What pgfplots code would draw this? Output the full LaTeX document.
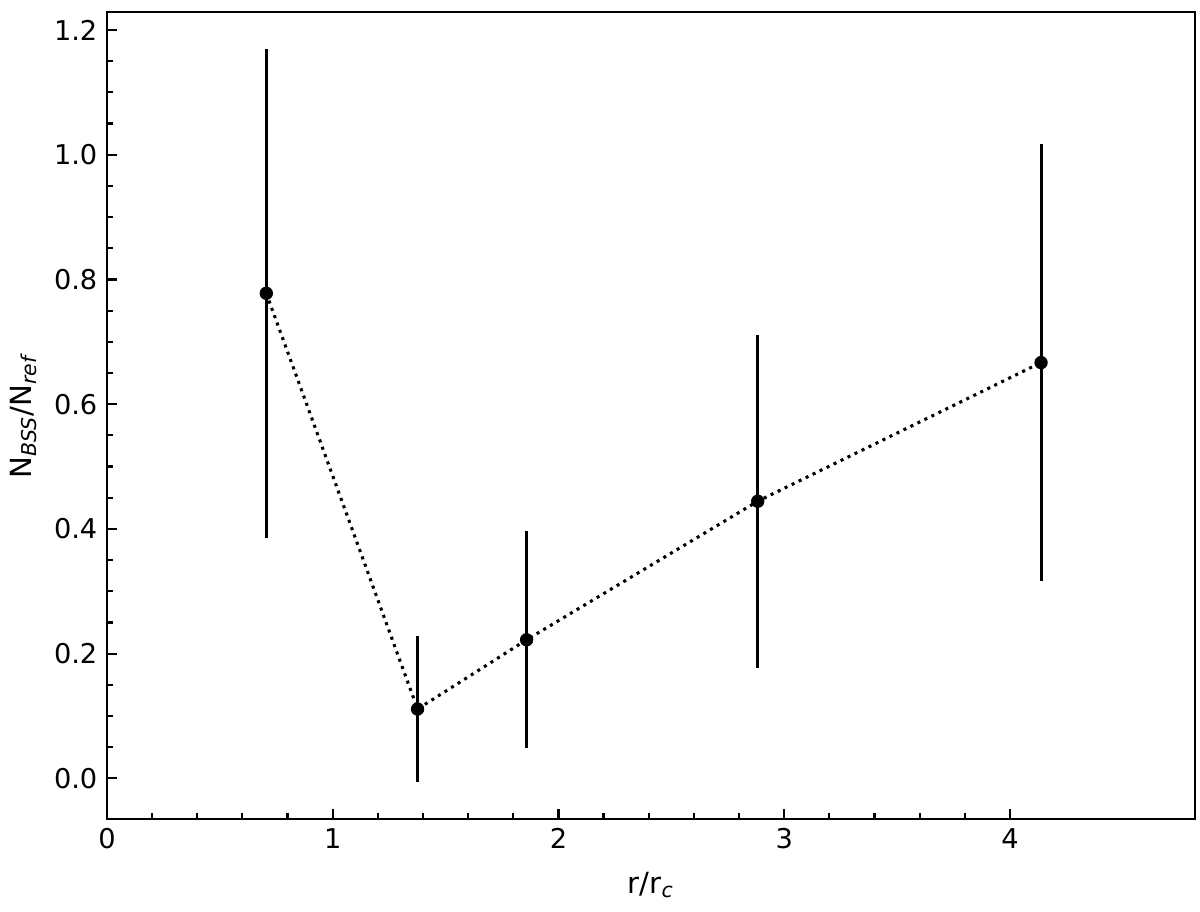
\documentclass[border=0pt]{standalone}
\usepackage{fontspec}
\setmainfont{DejaVu Sans}
\usepackage{pgfplots}
\pgfplotsset{compat=1.18}

\pgfplotstableread{
x      y       e
0.706  0.7778  0.392
1.376  0.1111  0.117
1.859  0.2222  0.174
2.883  0.4444  0.267
4.138  0.6667  0.351
}\ratios

\begin{document}
\fontsize{9.8}{12}\selectfont
\begin{tikzpicture}
\begin{axis}[scale only axis,width=391.7pt,height=290.5pt,
  xmin=0,xmax=4.82,ymin=-0.065,ymax=1.229,
  axis line style={line width=0.9pt},
  xtick={0,1,2,3,4},minor x tick num=4,
  ytick={0,0.2,0.4,0.6,0.8,1.0,1.2},minor y tick num=3,
  tick align=inside,xtick pos=bottom,ytick pos=left,
  major tick length=3.6pt,minor tick length=2.1pt,
  every tick/.style={line width=0.8pt,black},
  tick label style={font=\fontsize{9.8}{12}\selectfont},
  /pgf/number format/assume math mode=true,
  yticklabel style={/pgf/number format/.cd,fixed,fixed zerofill,precision=1},
  xlabel={r/r\textsubscript{\textit{c}}},
  ylabel={N\textsubscript{\textit{BSS}}/N\textsubscript{\textit{ref}}},
  label style={font=\fontsize{10.5}{13}\selectfont},
  xlabel style={yshift=-1.5pt},
  ylabel style={yshift=-0.5pt},
  clip=false]
\addplot[black,line width=1.1pt,dash pattern=on 1.1pt off 1.7pt] table[x=x,y=y] {\ratios};
\addplot[black,only marks,mark=*,mark size=2.2pt,
  error bars/.cd,y dir=both,y explicit,
  error bar style={line width=1.1pt,black},error mark=none]
  table[x=x,y=y,y error=e] {\ratios};
\end{axis}
\useasboundingbox ([xshift=-38.5pt,yshift=-33.5pt]current axis.south west)
  rectangle ([xshift=1.8pt,yshift=4.3pt]current axis.north east);
\end{tikzpicture}
\end{document}
